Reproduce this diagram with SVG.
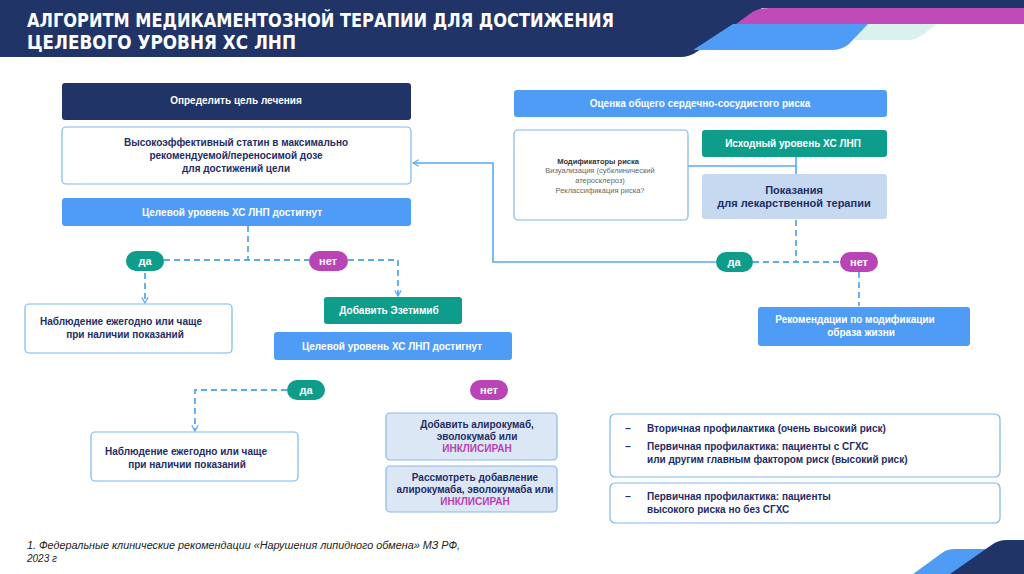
<svg xmlns="http://www.w3.org/2000/svg" width="1024" height="574" viewBox="0 0 1024 574">
<defs>
<style>
text{font-family:"Liberation Sans",Arial,sans-serif;font-weight:bold;font-size:10px;text-anchor:middle}
.w{fill:#ffffff}
.d{fill:#1e2d66}
.m{fill:#b83fb4}
.title{font-family:"Liberation Sans Narrow","DejaVu Sans Condensed","Liberation Sans",sans-serif;font-size:19px;fill:#ffffff;text-anchor:start}
.navy{fill:#213468}
.blue{fill:#4f9cf6}
.teal{fill:#0f9d8b}
.mag{fill:#b944b6}
.wb{fill:#ffffff;stroke:#7db6ef;stroke-width:1.2}
.lb{fill:#dce7f6;stroke:#8cb8ea;stroke-width:1.2}
.pl{fill:#c6d9f1}
.dash{fill:none;stroke:#5aa8f0;stroke-width:1.8;stroke-dasharray:6 4}
.sol{fill:none;stroke:#5aa8f0;stroke-width:1.6}
.pill{font-size:11px;fill:#ffffff}
.mod{font-weight:normal;font-size:7.5px;fill:#666666}
.lft{text-anchor:start}
.foot{font-family:"Liberation Sans Narrow","Liberation Sans",sans-serif;font-weight:normal;font-style:italic;font-size:10px;fill:#222222;text-anchor:start}
</style>
<marker id="arr" viewBox="0 0 10 10" refX="9" refY="5" markerWidth="8" markerHeight="8" orient="auto" markerUnits="userSpaceOnUse">
<polyline points="2,1 9,5 2,9" fill="none" stroke="#5aa8f0" stroke-width="1.4"/>
</marker>
</defs>
<rect width="1024" height="574" fill="#ffffff"/>
<g id="header">
<path d="M0,0 H1024 V8 H762 L698,51 Q690,57 680,57 H0 Z" fill="#213468"/>
<path d="M850,24 H937 L921,36 Q916,40 907,40 H855 Z" fill="#d9f2ee"/>
<path d="M733,24 H868 L849,44 Q842,50 831,50 H693 Z" fill="#4f9cf6"/>
<path d="M770,8 H1024 V24 H736 L751,13 Q757,8 770,8 Z" fill="#bf4bb8"/>
<text class="title" x="27" y="27" textLength="587" lengthAdjust="spacingAndGlyphs">АЛГОРИТМ МЕДИКАМЕНТОЗНОЙ ТЕРАПИИ ДЛЯ ДОСТИЖЕНИЯ</text>
<text class="title" x="27" y="49" textLength="269" lengthAdjust="spacingAndGlyphs">ЦЕЛЕВОГО УРОВНЯ ХС ЛНП</text>
</g>
<g id="corner">
<path d="M913,574 L942,553 Q947,549 955,549 H990 L955,574 Z" fill="#4f9cf6"/>
<path d="M950,574 L993,544 Q999,540 1007,540 H1024 V574 Z" fill="#213468"/>
</g>
<g id="connectors">
<path class="dash" d="M248,226 V260"/>
<path class="dash" d="M164,260 H309"/>
<path class="dash" d="M348,260 H398 V296" marker-end="url(#arr)"/>
<path class="dash" d="M145,273 V303" marker-end="url(#arr)"/>
<path class="dash" d="M287,390 H195 V431" marker-end="url(#arr)"/>
<path class="sol" d="M688,166 H796"/>
<path class="sol" d="M796,157 V174"/>
<path class="dash" d="M796,220 V262"/>
<path class="dash" d="M753,262 H840"/>
<path class="dash" d="M859,272 V306"/>
<path class="sol" d="M716,262 H493 V163 H413" marker-end="url(#arr)"/>
</g>
<g id="goal">
<rect class="navy" x="62" y="83" width="349" height="37" rx="3"/>
<text class="w" x="236" y="104">Определить цель лечения</text>
</g>
<g id="statin">
<rect class="wb" x="62" y="127" width="349" height="57" rx="4"/>
<text class="d" x="236" y="146">Высокоэффективный статин в максимально</text>
<text class="d" x="236" y="159">рекомендуемой/переносимой дозе</text>
<text class="d" x="236" y="172">для достижений цели</text>
</g>
<g id="target1">
<rect class="blue" x="62" y="198" width="349" height="28" rx="3"/>
<text class="w" x="232" y="216">Целевой уровень ХС ЛНП достигнут</text>
</g>
<g id="yes1">
<rect class="teal" x="126" y="251" width="38" height="20" rx="10"/>
<text class="pill" x="145" y="265">да</text>
</g>
<g id="no1">
<rect class="mag" x="309" y="251" width="39" height="20" rx="10"/>
<text class="pill" x="328" y="265">нет</text>
</g>
<g id="observe1">
<rect class="wb" x="25" y="304" width="207" height="49" rx="4"/>
<text class="d" x="121" y="325">Наблюдение ежегодно или чаще</text>
<text class="d" x="125" y="338">при наличии показаний</text>
</g>
<g id="ezetimibe">
<rect class="teal" x="324" y="297" width="138" height="27" rx="3"/>
<text class="w" x="389" y="314">Добавить Эзетимиб</text>
</g>
<g id="target2">
<rect class="blue" x="274" y="332" width="238" height="28" rx="3"/>
<text class="w" x="392" y="350">Целевой уровень ХС ЛНП достигнут</text>
</g>
<g id="yes2">
<rect class="teal" x="287" y="380" width="38" height="20" rx="10"/>
<text class="pill" x="306" y="394">да</text>
</g>
<g id="no2">
<rect class="mag" x="470" y="380" width="38" height="20" rx="10"/>
<text class="pill" x="489" y="394">нет</text>
</g>
<g id="observe2">
<rect class="wb" x="91" y="432" width="207" height="49" rx="4"/>
<text class="d" x="186" y="455">Наблюдение ежегодно или чаще</text>
<text class="d" x="187" y="468">при наличии показаний</text>
</g>
<g id="pcsk9a">
<rect class="lb" x="386" y="413" width="171" height="47" rx="4"/>
<text class="d" x="477" y="428">Добавить алирокумаб,</text>
<text class="d" x="477" y="440">эволокумаб или</text>
<text class="m" x="477" y="452">ИНКЛИСИРАН</text>
</g>
<g id="pcsk9b">
<rect class="lb" x="386" y="466" width="171" height="46" rx="4"/>
<text class="d" x="475" y="481">Рассмотреть добавление</text>
<text class="d" x="475" y="493">алирокумаба, эволокумаба или</text>
<text class="m" x="475" y="505">ИНКЛИСИРАН</text>
</g>
<g id="risk">
<rect class="blue" x="514" y="90" width="373" height="27" rx="3"/>
<text class="w" x="700" y="107">Оценка общего сердечно-сосудистого риска</text>
</g>
<g id="modifiers">
<rect class="wb" x="514" y="130" width="174" height="90" rx="4"/>
<text x="598" y="164" style="font-size:7.5px;fill:#333333">Модификаторы риска</text>
<text class="mod" x="600" y="173">Визуализация (субклинический</text>
<text class="mod" x="600" y="183">атеросклероз)</text>
<text class="mod" x="600" y="193">Реклассификация риска?</text>
</g>
<g id="baseline">
<rect class="teal" x="702" y="130" width="185" height="27" rx="3"/>
<text class="w" x="793" y="147">Исходный уровень ХС ЛНП</text>
</g>
<g id="indications">
<rect class="pl" x="702" y="174" width="185" height="45" rx="3"/>
<text class="d" x="794" y="194" style="font-size:11px">Показания</text>
<text class="d" x="794" y="207" style="font-size:11px">для лекарственной терапии</text>
</g>
<g id="yes3">
<rect class="teal" x="716" y="252" width="37" height="20" rx="10"/>
<text class="pill" x="734" y="266">да</text>
</g>
<g id="no3">
<rect class="mag" x="840" y="252" width="38" height="20" rx="10"/>
<text class="pill" x="859" y="266">нет</text>
</g>
<g id="lifestyle">
<rect class="blue" x="758" y="307" width="212" height="39" rx="3"/>
<text class="w" x="855" y="323">Рекомендации по модификации</text>
<text class="w" x="861" y="336">образа жизни</text>
</g>
<g id="groupA">
<rect class="wb" x="610" y="414" width="390" height="63" rx="5"/>
<text class="d" x="628" y="432">–</text>
<text class="d lft" x="647" y="432">Вторичная профилактика (очень высокий риск)</text>
<text class="d" x="628" y="450">–</text>
<text class="d lft" x="647" y="450">Первичная профилактика: пациенты с СГХС</text>
<text class="d lft" x="647" y="463">или другим главным фактором риск (высокий риск)</text>
</g>
<g id="groupB">
<rect class="wb" x="610" y="483" width="390" height="40" rx="5"/>
<text class="d" x="628" y="500">–</text>
<text class="d lft" x="647" y="500">Первичная профилактика: пациенты</text>
<text class="d lft" x="647" y="513">высокого риска но без СГХС</text>
</g>
<g id="footnote">
<text class="foot" x="27" y="549" textLength="433" lengthAdjust="spacingAndGlyphs">1.  Федеральные клинические рекомендации «Нарушения липидного обмена» МЗ РФ,</text>
<text class="foot" x="27" y="562">2023 г</text>
</g>
</svg>
